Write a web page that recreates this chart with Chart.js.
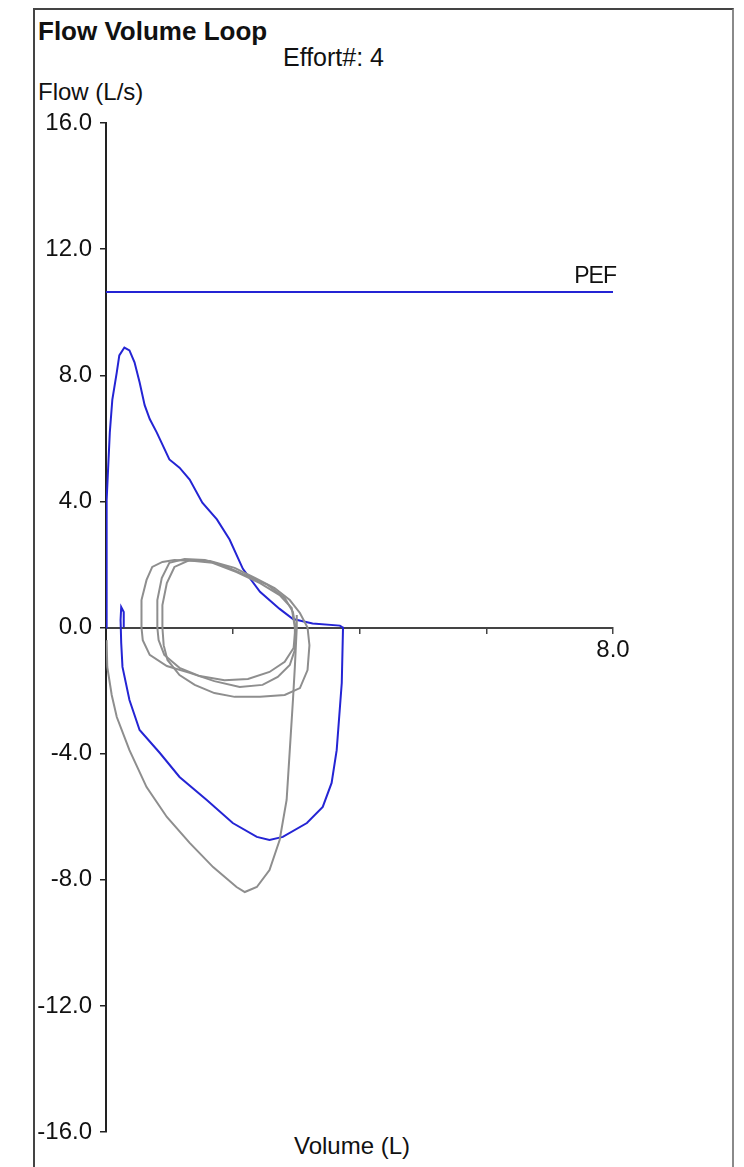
<!DOCTYPE html>
<html>
<head>
<meta charset="utf-8">
<title>Flow Volume Loop</title>
<script src="https://cdn.jsdelivr.net/npm/chart.js@4"></script>
<style>
  html, body { margin: 0; padding: 0; background: #fff; }
  body { width: 744px; height: 1167px; position: relative; overflow: hidden;
         font-family: "Liberation Sans", Arial, sans-serif; color: #111; }
  .frame { position: absolute; left: 33px; top: 8px; width: 697px; height: 1200px;
           border: 2px solid #444; border-right-color: #8a8a8a; }
  .txt { position: absolute; white-space: nowrap; font-size: 24px; line-height: 24px; }
  #title { left: 38px; top: 18px; font-weight: bold; font-size: 26px; line-height: 26px; }
  #effort { left: 283px; top: 45px; font-size: 25px; line-height: 25px; }
  #yTitle { left: 38px; top: 80px; }
  #xTitle { left: 352px; top: 1134px; transform: translateX(-50%); }
  .wrap { position: absolute; left: 0; top: 0; width: 744px; height: 1167px; }
</style>
</head>
<body>
<div class="frame"></div>
<div class="txt" id="title">Flow Volume Loop</div>
<div class="txt" id="effort">Effort#: 4</div>
<div class="txt" id="yTitle">Flow (L/s)</div>
<div class="txt" id="xTitle">Volume (L)</div>
<div class="wrap"><canvas id="loopChart"></canvas></div>
<script>
// axis ranges
const volumeMin = 0, volumeMax = 8, volumeStep = 2;
const flowMin = -16, flowMax = 16, flowStep = 4;

// peak expiratory flow reference line (L/s)
const pefFlow = 10.64;

// effort 4: forced expiration then forced inspiration
const effortVolume = [0, 0.01, 0.01, 0.06, 0.10, 0.17, 0.21, 0.29, 0.37, 0.45, 0.53, 0.61, 0.69, 0.80,
  1.00, 1.16, 1.32, 1.52, 1.75, 1.95, 2.16, 2.43, 2.74, 2.95, 3.26, 3.69, 3.72, 3.74,
  3.72, 3.64, 3.56, 3.42, 3.17, 2.79, 2.58, 2.38, 2.00, 1.59, 1.16, 0.85, 0.53, 0.37,
  0.26, 0.24, 0.23, 0.24, 0.28, 0.28];
const effortFlow = [0, 2.14, 4.04, 6.18, 7.23, 8.09, 8.63, 8.88, 8.79, 8.41, 7.78, 7.05, 6.61, 6.19,
  5.33, 5.07, 4.69, 3.96, 3.43, 2.79, 1.86, 1.13, 0.59, 0.27, 0.13, 0.06, 0.02, 0,
  -1.76, -3.89, -4.93, -5.69, -6.20, -6.64, -6.74, -6.64, -6.20, -5.47, -4.74, -3.98, -3.25, -2.30,
  -1.25, -0.49, 0.24, 0.65, 0.49, 0];

// earlier inspiration
const inspVolume = [0.01, 0.02, 0.09, 0.17, 0.37, 0.64, 0.96, 1.32, 1.69, 2.06, 2.19, 2.38, 2.58,
  2.74, 2.85, 2.90, 2.95, 2.98, 3.01, 3.01];
const inspFlow = [-0.40, -1.25, -2.14, -2.84, -3.89, -5.06, -6.01, -6.83, -7.60, -8.23, -8.39, -8.23, -7.69,
  -6.74, -5.47, -3.89, -2.30, -1.25, 0, 0.40];

// tidal breaths
const tidal1Volume = [0.56, 0.56, 0.64, 0.73, 0.89, 1.08, 1.40, 1.68, 2.06, 2.43, 2.74, 2.93, 2.98,
  2.98, 2.90, 2.71, 2.47, 2.11, 1.71, 1.32, 0.96, 0.69, 0.58, 0.56];
const tidal1Flow = [0, 0.87, 1.51, 1.92, 2.08, 2.14, 2.11, 2.05, 1.76, 1.41, 1.03, 0.62, 0,
  -0.71, -1.19, -1.57, -1.82, -1.89, -1.70, -1.44, -1.22, -0.87, -0.40, 0];

const tidal2Volume = [0.81, 0.81, 0.88, 1.00, 1.24, 1.56, 1.87, 2.19, 2.55, 2.82, 2.95, 2.99,
  2.96, 2.82, 2.58, 2.24, 1.87, 1.48, 1.16, 0.92, 0.83, 0.81];
const tidal2Flow = [0, 0.87, 1.57, 2.05, 2.17, 2.14, 1.95, 1.67, 1.35, 0.94, 0.49, 0,
  -0.65, -1.09, -1.41, -1.63, -1.67, -1.54, -1.28, -0.87, -0.40, 0];

const tidal3Volume = [0.89, 0.89, 0.96, 1.08, 1.32, 1.64, 2.03, 2.35, 2.66, 2.90, 3.06, 3.18,
  3.21, 3.18, 3.06, 2.82, 2.43, 2.03, 1.71, 1.40, 1.16, 0.97, 0.91, 0.89];
const tidal3Flow = [0, 0.71, 1.41, 1.92, 2.14, 2.11, 1.89, 1.57, 1.25, 0.87, 0.46, 0,
  -0.56, -1.35, -1.92, -2.14, -2.20, -2.20, -2.08, -1.82, -1.51, -1.03, -0.56, 0];

const effortBlue = "#2424d4";
const priorGray = "#8e8e8e";
const labelFont = { family: '"Liberation Sans", Arial, sans-serif', size: 24 };

function toPoints(vols, flows) {
  return vols.map((v, i) => ({ x: v, y: flows[i] }));
}

function trace(label, vols, flows, color) {
  return {
    label: label,
    data: toPoints(vols, flows),
    showLine: true,
    borderColor: color,
    borderWidth: 2,
    pointRadius: 0,
    tension: 0,
    fill: false,
  };
}

// writes "PEF" above the right end of the reference line
const pefLabel = {
  id: "pefLabel",
  afterDatasetsDraw(chart) {
    const { ctx, scales } = chart;
    ctx.save();
    ctx.font = '23px "Liberation Sans", Arial, sans-serif';
    ctx.letterSpacing = "-1px";
    ctx.fillStyle = "#111";
    ctx.textAlign = "right";
    ctx.textBaseline = "alphabetic";
    ctx.fillText("PEF", scales.x.getPixelForValue(volumeMax) + 3, scales.y.getPixelForValue(pefFlow) - 9);
    ctx.restore();
  },
};

new Chart(document.getElementById("loopChart"), {
  type: "scatter",
  data: {
    datasets: [
      trace("Tidal 1", tidal1Volume, tidal1Flow, priorGray),
      trace("Tidal 2", tidal2Volume, tidal2Flow, priorGray),
      trace("Tidal 3", tidal3Volume, tidal3Flow, priorGray),
      trace("Inspiration", inspVolume, inspFlow, priorGray),
      trace("Effort 4", effortVolume, effortFlow, effortBlue),
      trace("PEF", [volumeMin, volumeMax], [pefFlow, pefFlow], effortBlue),
    ],
  },
  options: {
    responsive: true,
    maintainAspectRatio: false,
    animation: false,
    layout: { padding: { left: 36, top: 123, right: 131, bottom: 35 } },
    plugins: { legend: { display: false }, tooltip: { enabled: false } },
    scales: {
      x: {
        type: "linear",
        position: { y: 0 },
        min: volumeMin,
        max: volumeMax,
        border: { display: true, color: "#444", width: 2 },
        grid: { drawOnChartArea: false, drawTicks: true, tickLength: 5, color: "#444", lineWidth: 1.5 },
        ticks: {
          stepSize: volumeStep,
          padding: 3,
          color: "#111",
          font: labelFont,
          maxRotation: 0,
          autoSkip: false,
          callback: (v) => (v === volumeMax ? v.toFixed(1) : ""),
        },
      },
      y: {
        type: "linear",
        position: "left",
        min: flowMin,
        max: flowMax,
        afterFit: (scale) => { scale.width = 70; },
        border: { display: true, color: "#222", width: 2 },
        grid: { drawOnChartArea: false, drawTicks: true, tickLength: 6, color: "#222", lineWidth: 1.5 },
        ticks: {
          stepSize: flowStep,
          padding: 8,
          color: "#111",
          font: labelFont,
          callback: (v) => v.toFixed(1),
        },
      },
    },
  },
  plugins: [pefLabel],
});
</script>
</body>
</html>
